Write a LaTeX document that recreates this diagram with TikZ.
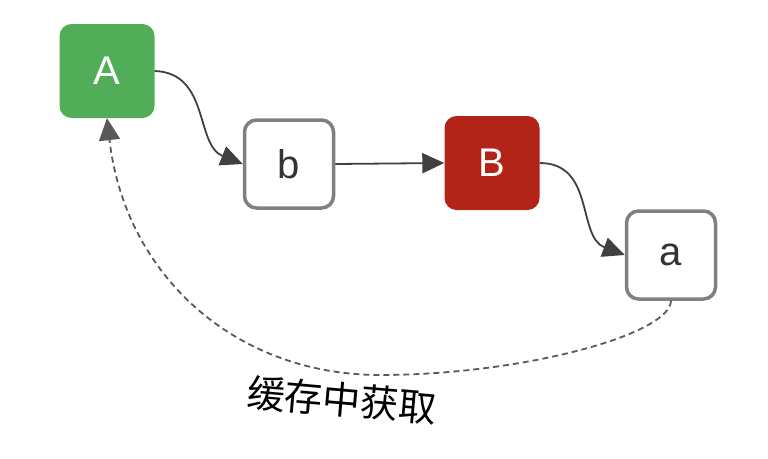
\documentclass[tikz,border=0pt]{standalone}
\usepackage{fontspec}
\setmainfont{Liberation Sans}
\newfontfamily\cjkfont{Noto Sans CJK SC}
\usetikzlibrary{arrows.meta}

\definecolor{boxgreen}{rgb}{0.32, 0.68, 0.35}
\definecolor{boxred}{rgb}{0.70, 0.14, 0.09}
\definecolor{boxgray}{rgb}{0.50, 0.50, 0.50}
\definecolor{textgray}{rgb}{0.20, 0.20, 0.20}
\definecolor{linegray}{rgb}{0.25, 0.25, 0.25}
\definecolor{dashgray}{rgb}{0.35, 0.35, 0.35}

\begin{document}
\begin{tikzpicture}[x=1pt,y=1pt,yscale=-1,xscale=1,
	box/.style={rectangle, rounded corners=12pt, minimum width=95pt, minimum height=94pt, inner sep=0pt, font=\fontsize{40}{42}\selectfont},
	filledbox/.style={box, fill=#1, text=white},
	plainbox/.style={box, draw=boxgray, line width=3.5pt, fill=white, text=textgray, minimum width=89pt, minimum height=88pt},
	link/.style={draw=linegray, line width=1.8pt, -{Triangle[length=22pt,width=20pt]}},
	cachelink/.style={draw=dashgray, line width=1.8pt, dash pattern=on 6pt off 4pt, -{Triangle[length=22pt,width=21pt]}}]
		% Fix the diagram size to the reference
		\useasboundingbox (0,0) rectangle (768,458);

		% The four boxes
		\node[filledbox=boxgreen] (nA) at (107,71) {A};
		\node[plainbox] (nb) at (289,164) {b};
		\node[filledbox=boxred] (nB) at (492,163) {B};
		\node[plainbox] (na) at (671,255) {a};

		% Curved links A -> b and B -> a, straight link b -> B
		\draw[link] (nA.east) .. controls (210,73) and (195,145) .. (nb.west);
		\draw[link] (nb.east) -- (nB.west);
		\draw[link] (nB.east) .. controls (595,163) and (577,237) .. (na.west);

		% Dashed link from a back to A
		\draw[cachelink] (na.south) .. controls (670,335) and (520,375) .. (380,375)
			.. controls (235,375) and (125,275) .. (nA.south);

		% Label under the dashed link
		\node[font=\cjkfont\fontsize{38}{40}\selectfont, rotate=-5] (cachetext) at (342,400) {缓存中获取};
	\end{tikzpicture}
\end{document}
